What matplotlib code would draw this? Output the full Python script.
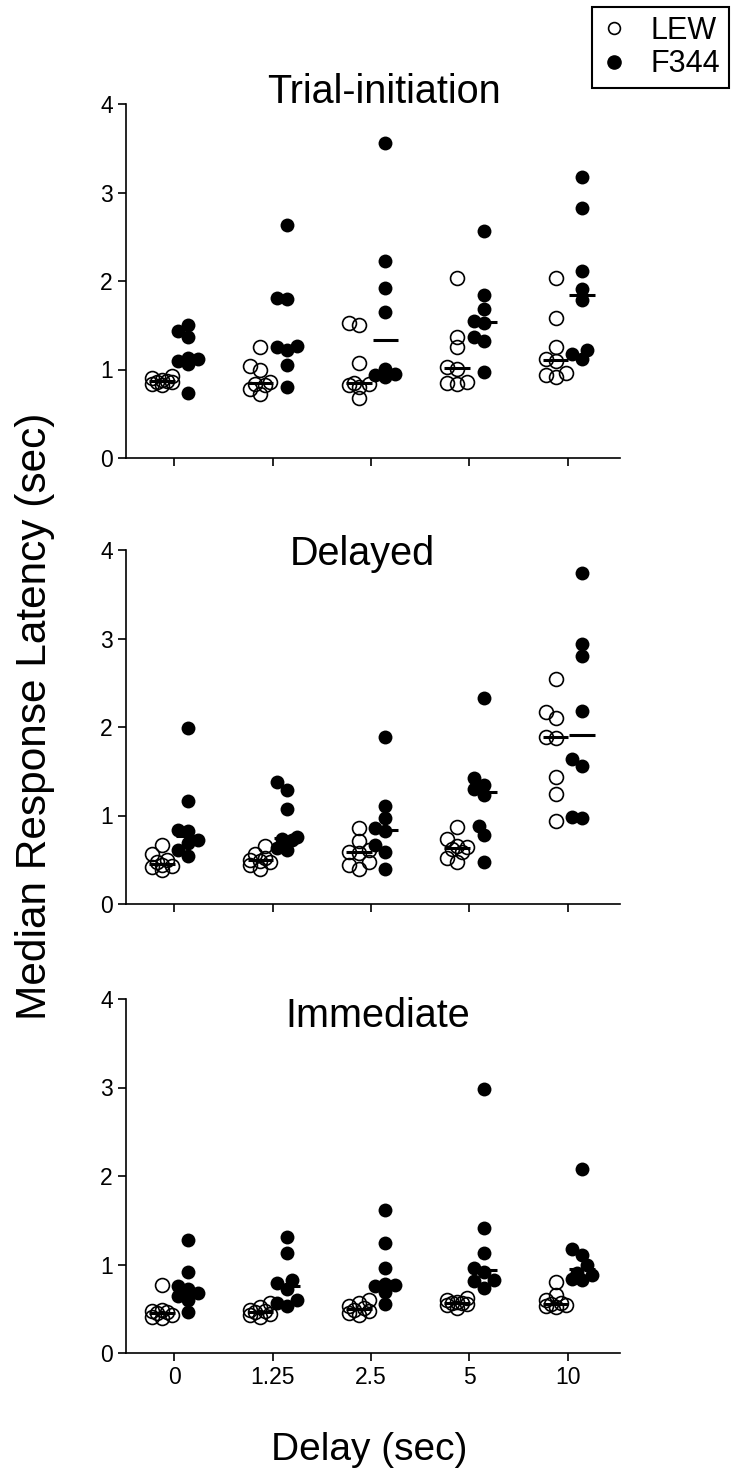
import numpy as np
import matplotlib
matplotlib.use("Agg")
import matplotlib.pyplot as plt
from matplotlib.lines import Line2D

plt.rcParams['font.family'] = ['Liberation Sans', 'DejaVu Sans']

delays = ['0', '1.25', '2.5', '5', '10']
titles = ['Trial-initiation', 'Delayed', 'Immediate']

trial_lew = [[0.93, 0.90, 0.88, 0.87, 0.86, 0.86, 0.84, 0.82],
             [1.25, 1.04, 1.00, 0.86, 0.84, 0.82, 0.78, 0.72],
             [1.52, 1.50, 1.07, 0.85, 0.84, 0.82, 0.80, 0.68],
             [2.03, 1.37, 1.25, 1.03, 1.01, 0.86, 0.85, 0.84],
             [2.03, 1.58, 1.25, 1.12, 1.10, 0.96, 0.94, 0.91]]
trial_f344 = [[1.50, 1.44, 1.37, 1.13, 1.12, 1.10, 1.06, 0.74],
              [2.63, 1.81, 1.80, 1.26, 1.25, 1.22, 1.05, 0.80],
              [3.56, 2.23, 1.92, 1.65, 1.01, 0.95, 0.94, 0.92],
              [2.56, 1.84, 1.68, 1.55, 1.52, 1.37, 1.32, 0.97],
              [3.18, 2.82, 2.11, 1.91, 1.78, 1.22, 1.17, 1.12]]

delayed_lew = [[0.67, 0.57, 0.50, 0.47, 0.44, 0.43, 0.42, 0.38],
               [0.65, 0.57, 0.52, 0.50, 0.49, 0.47, 0.44, 0.39],
               [0.86, 0.71, 0.61, 0.59, 0.58, 0.48, 0.44, 0.40],
               [0.87, 0.74, 0.66, 0.64, 0.62, 0.59, 0.52, 0.48],
               [2.54, 2.17, 2.10, 1.89, 1.88, 1.44, 1.24, 0.94]]
delayed_f344 = [[1.99, 1.16, 0.84, 0.82, 0.72, 0.69, 0.61, 0.54],
                [1.38, 1.29, 1.07, 0.76, 0.74, 0.72, 0.63, 0.61],
                [1.89, 1.11, 0.97, 0.86, 0.82, 0.67, 0.59, 0.39],
                [2.33, 1.42, 1.35, 1.30, 1.23, 0.88, 0.78, 0.47],
                [3.74, 2.94, 2.80, 2.18, 1.64, 1.56, 0.98, 0.97]]

immediate_lew = [[0.77, 0.49, 0.47, 0.46, 0.45, 0.43, 0.41, 0.39],
                 [0.56, 0.52, 0.49, 0.47, 0.46, 0.44, 0.43, 0.41],
                 [0.60, 0.56, 0.53, 0.51, 0.49, 0.47, 0.45, 0.43],
                 [0.62, 0.60, 0.58, 0.57, 0.56, 0.55, 0.54, 0.51],
                 [0.80, 0.66, 0.60, 0.56, 0.55, 0.54, 0.53, 0.52]]
immediate_f344 = [[1.28, 0.92, 0.76, 0.72, 0.68, 0.64, 0.60, 0.46],
                  [1.31, 1.13, 0.82, 0.79, 0.72, 0.60, 0.56, 0.53],
                  [1.62, 1.24, 0.96, 0.78, 0.77, 0.76, 0.69, 0.55],
                  [2.98, 1.41, 1.13, 0.96, 0.92, 0.82, 0.81, 0.74],
                  [2.08, 1.18, 1.11, 0.99, 0.90, 0.88, 0.84, 0.83]]

panels = [(trial_lew, trial_f344), (delayed_lew, delayed_f344),
          (immediate_lew, immediate_f344)]


def swarm(vals, sx, sy, d=10.0, cands=(0, -5, 5, -10, 10)):
    # Prism-like scatter: spread overlapping points sideways, but keep
    # the column narrow (max +-10 px), returns x offsets in data units
    vals = np.asarray(vals)
    xs = np.zeros(len(vals))
    placed = []
    for i in np.argsort(vals):
        y = vals[i] * sy
        best, best_md = 0, -1
        for c in cands:
            md = min([np.hypot(c - px, y - py) for px, py in placed] + [1e9])
            if md >= d:
                best = c
                break
            if md > best_md:
                best, best_md = c, md
        placed.append((best, y))
        xs[i] = best / sx
    return xs


W, H = 731, 1475
fig = plt.figure(figsize=(W / 100, H / 100), dpi=100)

left, width, height = 126 / W, 494 / W, 354 / H
bottoms = [458, 904, 1353]
title_pos = [(384, 103), (362, 565), (378, 1027)]
offsets = [-0.125, 0.145]

for k, (lew, f344) in enumerate(panels):
    ax = fig.add_axes([left, 1 - bottoms[k] / H, width, height])
    ax.set_xlim(-0.49, 4.53)
    ax.set_ylim(0, 4)
    sx = ax.transData.transform((1, 0))[0] - ax.transData.transform((0, 0))[0]
    sy = ax.transData.transform((0, 1))[1] - ax.transData.transform((0, 0))[1]
    for i in range(len(delays)):
        for j, grp in enumerate([lew[i], f344[i]]):
            c = i + offsets[j]
            xo = swarm(grp, sx, sy)
            if j == 0:
                ax.plot(c + xo, grp, 'o', ms=10, mfc='none', mec='black', mew=1.2,
                        clip_on=False, zorder=2)
            else:
                ax.plot(c + xo, grp, 'o', ms=10, mfc='black', mec='black', mew=0,
                        clip_on=False, zorder=2)
            ax.hlines(np.median(grp), c - 0.13, c + 0.13, color='black', lw=2.2, zorder=3)

    for s in ['top', 'right']:
        ax.spines[s].set_visible(False)
    for s in ['left', 'bottom']:
        ax.spines[s].set_linewidth(1.2)
    ax.set_yticks([0, 1, 2, 3, 4])
    ax.set_xticks(range(len(delays)))
    ax.tick_params(direction='out', length=6, width=1.2, labelsize=16.5, pad=3.5)
    if k < 2:
        ax.set_xticklabels([])
    else:
        ax.set_xticklabels(delays)

    tx, ty = title_pos[k]
    fig.text(tx / W, 1 - ty / H, titles[k], ha='center', va='baseline', fontsize=28.5)

fig.text(369 / W, 1 - 1450 / H, 'Delay (sec)', ha='center', va='center', fontsize=28)
fig.text(35 / W, 1 - 716 / H, 'Median Response Latency (sec)', ha='center', va='center',
         rotation=90, fontsize=30.5)

handles = [Line2D([], [], ls='none', marker='o', ms=8.5, mfc='none', mec='black', mew=1.2),
           Line2D([], [], ls='none', marker='o', ms=9.5, mfc='black', mec='black')]
leg = fig.legend(handles, ['LEW', 'F344'], loc='upper right',
                 bbox_to_anchor=(729 / W, 1 - 7 / H), bbox_transform=fig.transFigure,
                 fontsize=22, frameon=True, fancybox=False, edgecolor='black',
                 framealpha=1, borderpad=0.28, labelspacing=0.12, handlelength=0.9,
                 handletextpad=0.75, borderaxespad=0)
leg.get_frame().set_linewidth(1.5)

fig.savefig('out.png', dpi=100, facecolor='white')
